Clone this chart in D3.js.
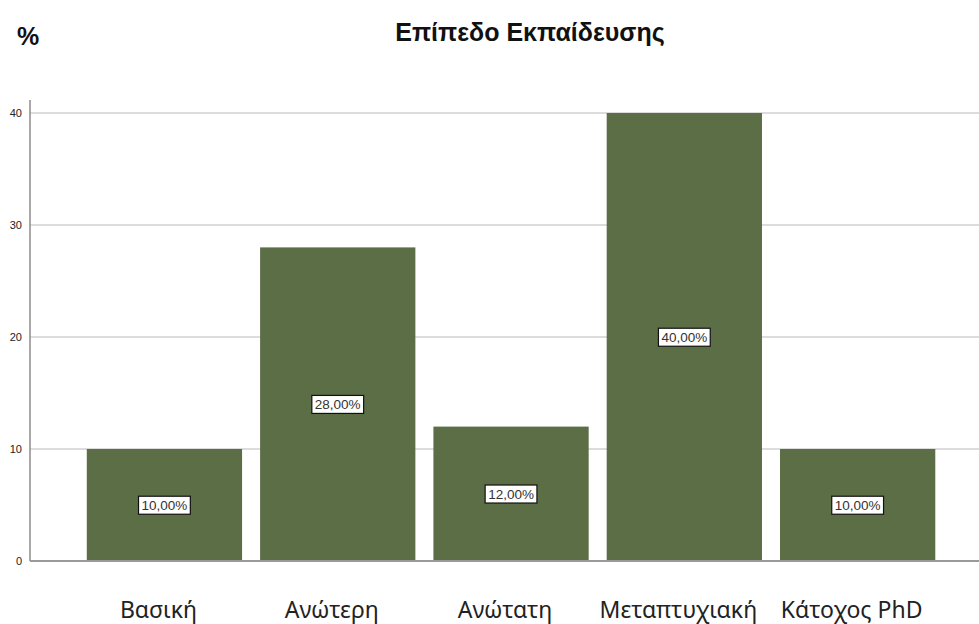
<!DOCTYPE html>
<html>
<head>
<meta charset="utf-8">
<script src="https://cdn.jsdelivr.net/npm/d3@7"></script>
<style>
  body { margin: 0; background: #fff; }
  .title { font-family: "Liberation Sans", Arial, sans-serif; font-weight: bold; font-size: 25px; fill: #111; }
  .tick text { font-family: "Liberation Sans", Arial, sans-serif; font-size: 11px; fill: #222; }
  .cat { font-family: "Noto Sans", sans-serif; font-size: 23px; fill: #222; }
  .val { font-family: "Liberation Sans", Arial, sans-serif; font-size: 13.5px; fill: #333; }
</style>
</head>
<body>
<div id="chart"></div>
<script>
// Data
const categories = ['Βασική', 'Ανώτερη', 'Ανώτατη', 'Μεταπτυχιακή', 'Κάτοχος PhD'];
const percents = [10, 28, 12, 40, 10];
const yTicks = [0, 10, 20, 30, 40];

const width = 979;
const height = 624;
const plotLeft = 30;
const plotRight = 979;
const plotTop = 100;
const baseline = 561;

const svg = d3.select('#chart')
  .append('svg')
    .attr('width', width)
    .attr('height', height);

const x = d3.scaleBand()
    .domain(categories)
    .range([plotLeft, plotRight])
    .paddingInner(0.104)
    .paddingOuter(0.29)
    .align(0.565);

const y = d3.scaleLinear()
    .domain([0, 40])
    .range([baseline, 113]);

// Grid lines
svg.append('g')
  .selectAll('line')
  .data(yTicks.filter(d => d > 0))
  .join('line')
    .attr('x1', plotLeft)
    .attr('x2', plotRight)
    .attr('y1', d => y(d))
    .attr('y2', d => y(d))
    .attr('stroke', '#dcdcdc')
    .attr('stroke-width', 2);

// Bars
const data = categories.map((c, i) => ({ cat: c, value: percents[i] }));

svg.append('g')
  .selectAll('rect')
  .data(data)
  .join('rect')
    .attr('x', d => x(d.cat))
    .attr('y', d => y(d.value))
    .attr('width', x.bandwidth())
    .attr('height', d => baseline - y(d.value))
    .attr('fill', '#5b6e46');

// Y axis
const yAxis = svg.append('g')
    .attr('transform', `translate(${plotLeft},0)`)
    .call(d3.axisLeft(y).tickValues(yTicks).tickSize(0).tickPadding(8));
yAxis.select('.domain').remove();

svg.append('line')
    .attr('x1', plotLeft).attr('x2', plotLeft)
    .attr('y1', plotTop).attr('y2', baseline)
    .attr('stroke', '#8c8c8c')
    .attr('stroke-width', 1.5);

svg.append('line')
    .attr('x1', plotLeft).attr('x2', plotRight)
    .attr('y1', baseline).attr('y2', baseline)
    .attr('stroke', '#9a9a9a')
    .attr('stroke-width', 2);

// Value labels
const labels = svg.append('g')
  .selectAll('g')
  .data(data)
  .join('g')
    .attr('transform', d => `translate(${x(d.cat) + x.bandwidth() / 2}, ${(y(d.value) + baseline) / 2})`);

labels.append('text')
    .attr('class', 'val')
    .attr('text-anchor', 'middle')
    .attr('dy', '0.35em')
    .text(d => d.value.toFixed(2).replace('.', ',') + '%');

labels.each(function() {
  const g = d3.select(this);
  const bb = g.select('text').node().getBBox();
  g.insert('rect', 'text')
      .attr('x', bb.x - 3)
      .attr('y', bb.y - 1.5)
      .attr('width', bb.width + 6)
      .attr('height', bb.height + 3)
      .attr('fill', '#fff')
      .attr('stroke', '#111')
      .attr('stroke-width', 1.2);
});

// Category labels
svg.append('g')
  .selectAll('text')
  .data(categories)
  .join('text')
    .attr('class', 'cat')
    .attr('text-anchor', 'middle')
    .attr('x', d => x(d) + x.bandwidth() / 2)
    .attr('dx', -6)
    .attr('y', 618)
    .text(d => d);

// Titles
svg.append('text')
    .attr('class', 'title')
    .attr('text-anchor', 'middle')
    .attr('x', 530)
    .attr('y', 41)
    .text('Επίπεδο Εκπαίδευσης');

svg.append('text')
    .attr('class', 'title')
    .attr('font-size', 23)
    .attr('x', 17)
    .attr('y', 45)
    .text('%');
</script>
</body>
</html>
